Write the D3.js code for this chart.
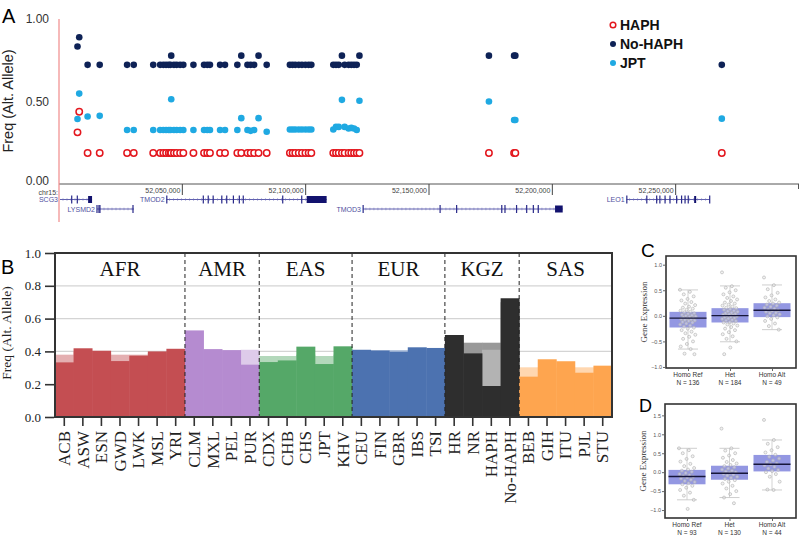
<!DOCTYPE html>
<meta charset="utf-8">
<script src="https://d3js.org/d3.v7.min.js"></script>
<style>body{margin:0;background:#fff}</style>
<svg id="fig" width="800" height="535"></svg>
<script>
// ---------------- Panel A data ----------------
const snpPos = [52007500, 52008200, 52011600, 52016500, 52027600, 52030300, 52038200, 52041000, 52042300,
  52043400, 52044500, 52045200, 52045500, 52046600, 52047700, 52049100, 52050400, 52054500, 52058800,
  52060100, 52061200, 52065300, 52067300, 52072300, 52073900, 52076400, 52077700, 52079100, 52080900,
  52084200, 52093600, 52094700, 52095800, 52097200, 52098500, 52099900, 52101200, 52102300, 52111200,
  52112300, 52113400, 52114700, 52115800, 52117400, 52118500, 52119600, 52120700, 52121800, 52174300,
  52184500, 52185000, 52268700];
const freqNoHAPH = [0.833, 0.889, 0.722, 0.722, 0.722, 0.722, 0.722, 0.722, 0.722,
  0.722, 0.722, 0.722, 0.778, 0.722, 0.722, 0.722, 0.722, 0.722, 0.722,
  0.722, 0.722, 0.722, 0.722, 0.722, 0.778, 0.722, 0.722, 0.722, 0.778,
  0.722, 0.722, 0.722, 0.722, 0.722, 0.722, 0.722, 0.722, 0.722, 0.722,
  0.722, 0.722, 0.778, 0.722, 0.722, 0.722, 0.722, 0.722, 0.778, 0.778,
  0.778, 0.778, 0.722];
const freqJPT = [0.394, 0.548, 0.409, 0.413, 0.327, 0.327, 0.327, 0.327, 0.327,
  0.327, 0.327, 0.327, 0.514, 0.327, 0.327, 0.327, 0.327, 0.327, 0.327,
  0.327, 0.327, 0.327, 0.327, 0.327, 0.399, 0.327, 0.322, 0.327, 0.399,
  0.317, 0.330, 0.330, 0.330, 0.330, 0.330, 0.330, 0.330, 0.330, 0.330,
  0.346, 0.346, 0.510, 0.346, 0.336, 0.340, 0.336, 0.327, 0.505, 0.500,
  0.388, 0.388, 0.396];
const freqHAPH = [0.313, 0.438, 0.188, 0.188, 0.188, 0.188, 0.188, 0.188, 0.188,
  0.188, 0.188, 0.188, 0.188, 0.188, 0.188, 0.188, 0.188, 0.188, 0.188,
  0.188, 0.188, 0.188, 0.188, 0.188, 0.188, 0.188, 0.188, 0.188, 0.188,
  0.188, 0.188, 0.188, 0.188, 0.188, 0.188, 0.188, 0.188, 0.188, 0.188,
  0.188, 0.188, 0.188, 0.188, 0.188, 0.188, 0.188, 0.188, 0.188, 0.188,
  0.188, 0.188, 0.188];
const genomeTicks = [52050000, 52100000, 52150000, 52200000, 52250000];

// gene track
const geneNames = ["SCG3", "LYSMD2", "TMOD2", "TMOD3", "LEO1"];
const geneStart = [52000400, 52015400, 52043600, 52123200, 52230100];
const geneEnd   = [52013400, 52030400, 52108500, 52204200, 52263900];
const geneRow   = [0, 1, 0, 1, 0];
const geneExons = [
  [52005150, 52007420],
  [52015400, 52016200, 52016600, 52030000],
  [52043700, 52058500, 52060500, 52062500, 52066000, 52068000, 52070700, 52073100, 52074700, 52090700, 52098400],
  [52123300, 52154500, 52161200, 52179500, 52180800, 52185500, 52189600, 52192300, 52194300],
  [52230200, 52238300, 52242300, 52243600, 52245700, 52247700, 52250400, 52252400, 52253800, 52255100, 52263800]
];
const geneThick = [[52011800, 52013400], null, [52100400, 52108500], [52201100, 52204200], [52257500, 52258200]];

// ---------------- Panel B data ----------------
const popNames = ["ACB","ASW","ESN","GWD","LWK","MSL","YRI","CLM","MXL","PEL","PUR","CDX","CHB","CHS","JPT","KHV",
  "CEU","FIN","GBR","IBS","TSI","HR","NR","HAPH","No-HAPH","BEB","GIH","ITU","PJL","STU"];
const groupNames = ["AFR","AMR","EAS","EUR","KGZ","SAS"];
const groupSizes = [7, 4, 5, 5, 4, 5];
const groupColors = ["#c44e52", "#b58bd0", "#55a868", "#4c72b0", "#2e2e2e", "#fea54f"];
const freqMain = [0.333, 0.419, 0.404, 0.341, 0.374, 0.400, 0.416, 0.528, 0.414, 0.408, 0.319,
  0.335, 0.345, 0.429, 0.323, 0.431, 0.410, 0.406, 0.398, 0.425, 0.421,
  0.500, 0.388, 0.189, 0.724, 0.246, 0.352, 0.340, 0.270, 0.313];
const freqLight = [0.380, 0.400, 0.390, 0.380, 0.380, 0.390, 0.400, 0.410, 0.400, 0.400, 0.410,
  0.372, 0.372, 0.380, 0.372, 0.380, 0.405, 0.405, 0.408, 0.405, 0.405,
  0.450, 0.453, 0.453, 0.700, 0.303, 0.300, 0.300, 0.303, 0.300];
const freqLight2 = [0,0,0,0,0,0,0,0,0,0,0,0,0,0,0,0,0,0,0,0,0,0,0,0.410,0,0,0,0,0,0];

// ---------------- Panels C / D data ----------------
const genotypes = ["Homo Ref", "Het", "Homo Alt"];
const nC = [136, 184, 49];
const nD = [93, 130, 44];
// box stats: [low whisker, q1, median, q3, high whisker]
const boxC = [[-0.65, -0.228, -0.045, 0.078, 0.507], [-0.507, -0.13, 0.005, 0.15, 0.585], [-0.27, -0.025, 0.11, 0.247, 0.604]];
const boxD = [[-0.73, -0.32, -0.115, 0.06, 0.63], [-0.67, -0.20, -0.03, 0.17, 0.63], [-0.47, 0.02, 0.21, 0.455, 0.85]];
const ptsC_ref = [0.51,0.47,0.42,0.38,0.33,0.30,0.27,0.24,0.21,0.18,0.16,0.14,0.12,0.10,0.08,0.07,0.05,0.04,0.02,0.01,0.00,
  -0.01,-0.02,-0.03,-0.04,-0.05,-0.06,-0.07,-0.08,-0.09,-0.10,-0.12,-0.13,-0.15,-0.17,-0.19,-0.21,-0.23,-0.25,-0.28,
  -0.31,-0.34,-0.37,-0.41,-0.45,-0.50,-0.55,-0.60,-0.65,-0.74,-0.75];
const ptsC_het = [0.85,0.58,0.55,0.50,0.46,0.42,0.38,0.35,0.32,0.29,0.26,0.24,0.22,0.20,0.18,0.16,0.15,0.13,0.12,0.10,
  0.09,0.08,0.06,0.05,0.04,0.03,0.02,0.01,0.00,-0.01,-0.02,-0.03,-0.04,-0.05,-0.06,-0.08,-0.09,-0.10,-0.12,-0.13,
  -0.15,-0.17,-0.19,-0.22,-0.25,-0.28,-0.32,-0.36,-0.40,-0.45,-0.50,-0.62,-0.75];
const ptsC_alt = [0.75,0.60,0.52,0.45,0.40,0.36,0.32,0.29,0.26,0.24,0.22,0.20,0.18,0.16,0.14,0.12,0.11,0.10,0.08,0.06,
  0.05,0.03,0.01,-0.01,-0.03,-0.06,-0.10,-0.15,-0.20,-0.27];
const ptsD_ref = [0.63,0.58,0.50,0.42,0.35,0.28,0.22,0.16,0.11,0.07,0.04,0.01,-0.02,-0.05,-0.08,-0.10,-0.12,-0.14,-0.17,
  -0.20,-0.23,-0.26,-0.29,-0.32,-0.36,-0.41,-0.47,-0.54,-0.62,-0.73,-0.97];
const ptsD_het = [1.15,0.63,0.57,0.50,0.44,0.38,0.32,0.27,0.23,0.19,0.16,0.13,0.10,0.07,0.04,0.02,0.00,-0.02,-0.04,-0.06,
  -0.09,-0.12,-0.15,-0.18,-0.21,-0.25,-0.30,-0.36,-0.43,-0.50,-0.58,-0.67,-0.82];
const ptsD_alt = [1.38,0.85,0.75,0.66,0.58,0.52,0.46,0.41,0.36,0.31,0.27,0.23,0.21,0.18,0.14,0.10,0.06,0.03,0.00,-0.05,
  -0.12,-0.25,-0.47,-0.46];

const svg = d3.select("#fig");
const SANS = "Liberation Sans, Arial, sans-serif";
const SERIF = "Liberation Serif, Times New Roman, serif";

// panel letters
[["A", 2, 23, 20], ["B", 1, 274, 20], ["C", 641, 257, 19], ["D", 639, 412, 18]].forEach(([t, x, y, s]) =>
  svg.append("text").attr("x", x).attr("y", y).attr("font-family", SANS).attr("font-size", s).text(t));

// ================= Panel A =================
const xA = d3.scaleLinear().domain([52000000, 52300000]).range([59, 799]);
const yA = d3.scaleLinear().domain([0, 1]).range([184, 19]);
const gA = svg.append("g");

gA.append("g").attr("transform", "translate(52,0)")
  .call(d3.axisLeft(yA).tickValues([0, 0.5, 1]).tickFormat(d3.format(".2f")).tickSize(0))
  .call(g => g.select(".domain").remove())
  .call(g => g.selectAll("text").attr("dy", d => d === 0 ? "0.05em" : "0.32em"))
  .selectAll("text").attr("font-family", SANS).attr("font-size", 12).attr("fill", "#333");

gA.append("text").attr("transform", "translate(13,101) rotate(-90)").attr("text-anchor", "middle")
  .attr("font-family", SANS).attr("font-size", 14.5).attr("fill", "#222").text("Freq (Alt. Allele)");

// genomic axis
gA.append("line").attr("x1", 59).attr("x2", 799).attr("y1", 184).attr("y2", 184).attr("stroke", "#555");
gA.append("line").attr("x1", 798.5).attr("x2", 798.5).attr("y1", 184).attr("y2", 189).attr("stroke", "#555");
const tk = gA.append("g").selectAll("g").data(genomeTicks).join("g").attr("transform", d => `translate(${xA(d)},0)`);
tk.append("line").attr("y1", 184).attr("y2", 195).attr("stroke", "#444");
tk.append("text").attr("x", -2).attr("y", 193).attr("text-anchor", "end").attr("font-family", SANS)
  .attr("font-size", 7).attr("fill", "#444").text(d3.format(","));
gA.append("text").attr("x", 58).attr("y", 194.5).attr("text-anchor", "end").attr("font-family", SANS)
  .attr("font-size", 7).attr("fill", "#444").text("chr15:");

// gene track
const rowY = [199.5, 209];
const genes = geneNames.map((n, i) => ({ n, s: geneStart[i], e: geneEnd[i], r: geneRow[i], ex: geneExons[i], th: geneThick[i] }));
const gg = gA.append("g").selectAll("g").data(genes).join("g");
gg.append("line").attr("x1", d => xA(d.s)).attr("x2", d => xA(d.e)).attr("y1", d => rowY[d.r]).attr("y2", d => rowY[d.r])
  .attr("stroke", "#3a3a9a").attr("stroke-width", 0.8);
gg.each(function (d) {
  const g = d3.select(this), y = rowY[d.r];
  const hatch = d3.range(xA(d.s) + 3, xA(d.e) - 1, 4);
  g.selectAll(".h").data(hatch).join("line").attr("x1", v => v).attr("x2", v => v)
    .attr("y1", y - 1.3).attr("y2", y + 1.3).attr("stroke", "#6a6ab8").attr("stroke-width", 0.5);
  g.selectAll(".ex").data(d.ex).join("rect").attr("x", v => xA(v) - 0.6).attr("width", 1.2)
    .attr("y", y - 4).attr("height", 8).attr("fill", "#2a2a8a");
  if (d.th) g.append("rect").attr("x", xA(d.th[0])).attr("width", Math.max(2, xA(d.th[1]) - xA(d.th[0])))
    .attr("y", y - 3.5).attr("height", 7).attr("fill", "#12126e");
});
gg.append("text").attr("x", d => xA(d.s) - 2).attr("y", d => rowY[d.r] + 2.5).attr("text-anchor", "end")
  .attr("font-family", SANS).attr("font-size", 7).attr("fill", "#5050a0").text(d => d.n);

// red y line
gA.append("line").attr("x1", 59).attr("x2", 59).attr("y1", 19).attr("y2", 222).attr("stroke", "#f08a8a").attr("stroke-width", 1.2);

const snps = snpPos.map((p, i) => ({ p, h: freqHAPH[i], n: freqNoHAPH[i], j: freqJPT[i] }));
gA.append("g").selectAll("circle").data(snps).join("circle").attr("cx", d => xA(d.p)).attr("cy", d => yA(d.h))
  .attr("r", 3.2).attr("fill", "#fff").attr("stroke", "#e3171e").attr("stroke-width", 1.5);
gA.append("g").selectAll("circle").data(snps).join("circle").attr("cx", d => xA(d.p)).attr("cy", d => yA(d.n))
  .attr("r", 3.3).attr("fill", "#0e2256");
gA.append("g").selectAll("circle").data(snps).join("circle").attr("cx", d => xA(d.p)).attr("cy", d => yA(d.j))
  .attr("r", 3.3).attr("fill", "#1fa9e2");

// legend
const legA = [["HAPH", "hollow"], ["No-HAPH", "#0e2256"], ["JPT", "#1fa9e2"]];
legA.forEach(([t, c], i) => {
  const y = 25 + i * 19;
  if (c === "hollow") svg.append("circle").attr("cx", 613).attr("cy", y).attr("r", 2.8).attr("fill", "#fff").attr("stroke", "#e3171e").attr("stroke-width", 1.5);
  else svg.append("circle").attr("cx", 613).attr("cy", y).attr("r", 3).attr("fill", c);
  svg.append("text").attr("x", 620).attr("y", y + 5).attr("font-family", SANS).attr("font-weight", "bold")
    .attr("font-size", 14).attr("fill", "#111").text(t);
});

// ================= Panel B =================
const xB = d3.scaleBand().domain(popNames).range([55, 612]).padding(0);
const yB = d3.scaleLinear().domain([0, 1]).range([417, 253]);
const gB = svg.append("g");
const popGroup = [];
groupSizes.forEach((n, gi) => { for (let k = 0; k < n; k++) popGroup.push(gi); });
const pops = popNames.map((p, i) => ({ p, g: popGroup[i], m: freqMain[i], l: freqLight[i], l2: freqLight2[i] }));

gB.append("g").selectAll("line").data([0.2, 0.4, 0.6, 0.8]).join("line")
  .attr("x1", 55).attr("x2", 612).attr("y1", d => yB(d)).attr("y2", d => yB(d)).attr("stroke", "#d4d4d4").attr("stroke-width", 1.3);

const lightCol = (gi, t) => gi === 4 ? (t === 2 ? "#b3b3b3" : "#999999") : d3.interpolateRgb(groupColors[gi], "#fff")(0.55);
gB.append("g").selectAll("rect").data(pops).join("rect").attr("x", d => xB(d.p)).attr("width", xB.bandwidth() + 0.4)
  .attr("y", d => yB(d.l)).attr("height", d => yB(0) - yB(d.l)).attr("fill", d => lightCol(d.g, 1));
gB.append("g").selectAll("rect").data(pops.filter(d => d.l2 > 0)).join("rect").attr("x", d => xB(d.p)).attr("width", xB.bandwidth())
  .attr("y", d => yB(d.l2)).attr("height", d => yB(0) - yB(d.l2)).attr("fill", d => lightCol(d.g, 2));
gB.append("g").selectAll("rect").data(pops).join("rect").attr("x", d => xB(d.p)).attr("width", xB.bandwidth() + 0.4)
  .attr("y", d => yB(d.m)).attr("height", d => yB(0) - yB(d.m)).attr("fill", d => groupColors[d.g]);

// group dividers and labels
let cum = 0;
groupNames.forEach((gname, gi) => {
  const x0 = xB(popNames[cum]);
  const x1 = x0 + xB.step() * groupSizes[gi];
  gB.append("text").attr("x", (x0 + x1) / 2).attr("y", 276).attr("text-anchor", "middle")
    .attr("font-family", SERIF).attr("font-size", 21).attr("fill", "#111").text(gname);
  if (gi > 0) gB.append("line").attr("x1", x0).attr("x2", x0).attr("y1", 253).attr("y2", 417)
    .attr("stroke", "#222").attr("stroke-width", 1).attr("stroke-dasharray", "4,3");
  cum += groupSizes[gi];
});
gB.append("rect").attr("x", 55).attr("y", 253).attr("width", 557).attr("height", 164)
  .attr("fill", "none").attr("stroke", "#333").attr("stroke-width", 2);

// y axis B
gB.append("g").attr("transform", "translate(54,0)")
  .call(d3.axisLeft(yB).tickValues([0, 0.2, 0.4, 0.6, 0.8, 1.0]).tickFormat(d3.format(".1f")).tickSize(9).tickPadding(4))
  .call(g => g.select(".domain").remove())
  .call(g => g.selectAll("line").attr("stroke", "#333").attr("stroke-width", 1.6))
  .selectAll("text").attr("font-family", SERIF).attr("font-size", 13).attr("fill", "#222");
gB.append("text").attr("transform", "translate(11,333) rotate(-90)").attr("text-anchor", "middle")
  .attr("font-family", SERIF).attr("font-size", 13.5).attr("fill", "#222").text("Freq (Alt. Allele)");

// x axis B
gB.append("g").attr("transform", "translate(0,418)")
  .call(d3.axisBottom(xB).tickSize(8).tickPadding(4))
  .call(g => g.select(".domain").remove())
  .call(g => g.selectAll("line").attr("stroke", "#333").attr("stroke-width", 1.6))
  .selectAll("text").attr("font-family", SERIF).attr("font-size", 17).attr("fill", "#222")
  .attr("text-anchor", "end").attr("dy", "0.34em").attr("transform", "rotate(-90)").attr("x", -13).attr("y", 0);

// ================= Panels C / D =================
function exprPanel(frame, yDom, yTicks, stats, pts, ns) {
  const g = svg.append("g");
  const y = d3.scaleLinear().domain(yDom).range([frame.y1, frame.y0]);
  const x = d3.scalePoint().domain(genotypes).range([frame.x0 + 22, frame.x1 - 24]);
  const bw = 37;
  const cats = genotypes.map((c, i) => ({ c, s: stats[i], pts: pts[i], n: ns[i] }));

  const cg = g.selectAll("g.cat").data(cats).join("g").attr("class", "cat");
  // whiskers
  cg.append("line").attr("x1", d => x(d.c)).attr("x2", d => x(d.c)).attr("y1", d => y(d.s[0])).attr("y2", d => y(d.s[4]))
    .attr("stroke", "#c8c8c8").attr("stroke-width", 0.8);
  cg.append("line").attr("x1", d => x(d.c) - 10).attr("x2", d => x(d.c) + 10).attr("y1", d => y(d.s[4])).attr("y2", d => y(d.s[4]))
    .attr("stroke", "#c8c8c8").attr("stroke-width", 0.9);
  cg.append("line").attr("x1", d => x(d.c) - 10).attr("x2", d => x(d.c) + 10).attr("y1", d => y(d.s[0])).attr("y2", d => y(d.s[0]))
    .attr("stroke", "#c8c8c8").attr("stroke-width", 0.9);
  // box
  cg.append("rect").attr("x", d => x(d.c) - bw / 2).attr("width", bw).attr("y", d => y(d.s[3]))
    .attr("height", d => y(d.s[1]) - y(d.s[3])).attr("fill", "#8a8ee0").attr("fill-opacity", 0.92);
  // jittered points
  cg.each(function (d) {
    d3.select(this).selectAll("circle").data(d.pts).join("circle")
      .attr("cx", (v, i) => x(d.c) + (((i * 0.6180339) % 1) - 0.5) * 16)
      .attr("cy", v => y(v)).attr("r", 1.5)
      .attr("fill", "#e6e6e6").attr("fill-opacity", 0.5).attr("stroke", "#b0b0b0").attr("stroke-width", 0.6);
  });
  cg.append("line").attr("x1", d => x(d.c) - bw / 2).attr("x2", d => x(d.c) + bw / 2).attr("y1", d => y(d.s[2])).attr("y2", d => y(d.s[2]))
    .attr("stroke", "#16163a").attr("stroke-width", 1.4);

  // frame
  g.append("rect").attr("x", frame.x0).attr("y", frame.y0).attr("width", frame.x1 - frame.x0).attr("height", frame.y1 - frame.y0)
    .attr("fill", "none").attr("stroke", "#333").attr("stroke-width", 1.6);
  // axes
  g.append("g").attr("transform", `translate(${frame.x0 - 1},0)`)
    .call(d3.axisLeft(y).tickValues(yTicks).tickFormat(d3.format(".1f")).tickSize(2).tickPadding(1))
    .call(a => a.select(".domain").remove())
    .call(a => a.selectAll("line").attr("stroke", "#666"))
    .selectAll("text").attr("font-family", SANS).attr("font-size", 5.5).attr("fill", "#555");
  g.append("g").attr("transform", `translate(0,${frame.y1 + 1})`)
    .call(d3.axisBottom(x).tickSize(2).tickFormat(""))
    .call(a => a.select(".domain").remove())
    .call(a => a.selectAll("line").attr("stroke", "#666"));
  const lab = g.selectAll("text.xl").data(cats).join("text").attr("class", "xl")
    .attr("x", d => x(d.c)).attr("y", frame.y1 + 9).attr("text-anchor", "middle")
    .attr("font-family", SANS).attr("font-size", 6.5).attr("fill", "#333");
  lab.append("tspan").attr("x", d => x(d.c)).text(d => d.c);
  lab.append("tspan").attr("x", d => x(d.c)).attr("dy", 7.5).text(d => "N = " + d.n);
  g.append("text").attr("transform", `translate(${frame.x0 - 19},${(frame.y0 + frame.y1) / 2}) rotate(-90)`)
    .attr("text-anchor", "middle").attr("font-family", SERIF).attr("font-size", 9).attr("fill", "#333").text("Gene Expression");
}

exprPanel({ x0: 666, x1: 796, y0: 256, y1: 368 }, [-1.02, 1.17], [-1, -0.5, 0, 0.5, 1.0], boxC, [ptsC_ref, ptsC_het, ptsC_alt], nC);
exprPanel({ x0: 665, x1: 796, y0: 404, y1: 518 }, [-1.21, 1.8], [-1, -0.5, 0, 0.5, 1.0, 1.5], boxD, [ptsD_ref, ptsD_het, ptsD_alt], nD);
</script>
